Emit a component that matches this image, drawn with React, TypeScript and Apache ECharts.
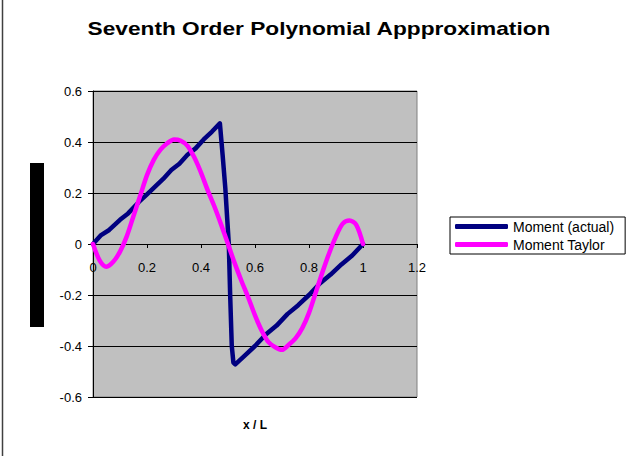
import React, { useEffect, useRef } from "react";
import * as echarts from "echarts";

const TITLE = "Seventh Order Polynomial Appproximation";
const X_NAME = "x / L";
const SERIES_NAMES = ["Moment (actual)", "Moment Taylor"];

const actualX = [0, 0.03, 0.06, 0.1, 0.13, 0.17, 0.2, 0.23, 0.26, 0.29, 0.32, 0.35, 0.38, 0.41, 0.44, 0.47, 0.48, 0.49, 0.497, 0.503, 0.508, 0.514, 0.52, 0.527, 0.56, 0.6, 0.64, 0.68, 0.72, 0.76, 0.8, 0.84, 0.88, 0.92, 0.96, 1.0];
const actualY = [0, 0.035, 0.055, 0.095, 0.12, 0.165, 0.195, 0.225, 0.255, 0.29, 0.315, 0.35, 0.375, 0.41, 0.44, 0.473, 0.35, 0.22, 0.1, 0, -0.2, -0.4, -0.465, -0.472, -0.44, -0.4, -0.355, -0.32, -0.275, -0.24, -0.2, -0.155, -0.12, -0.08, -0.045, 0.0];

const taylorX = [0, 0.025, 0.05, 0.075, 0.1, 0.125, 0.15, 0.175, 0.2, 0.225, 0.25, 0.275, 0.3, 0.325, 0.35, 0.375, 0.4, 0.425, 0.45, 0.475, 0.5, 0.525, 0.55, 0.575, 0.6, 0.625, 0.65, 0.675, 0.7, 0.725, 0.75, 0.775, 0.8, 0.825, 0.85, 0.875, 0.9, 0.925, 0.95, 0.975, 1.0];
const taylorY = [0, -0.065, -0.089, -0.07, -0.03, 0.03, 0.11, 0.19, 0.27, 0.33, 0.37, 0.395, 0.41, 0.405, 0.385, 0.34, 0.28, 0.21, 0.146, 0.075, 0, -0.076, -0.145, -0.21, -0.28, -0.34, -0.385, -0.405, -0.415, -0.395, -0.37, -0.33, -0.27, -0.19, -0.11, -0.035, 0.03, 0.08, 0.092, 0.075, 0.0];

const Y_MIN = -0.6, Y_MAX = 0.6, Y_STEP = 0.2;
const X_MIN = 0, X_MAX = 1.2, X_STEP = 0.2;

export default function App() {
  const ref = useRef<HTMLDivElement>(null);
  useEffect(() => {
    if (!ref.current) return;
    const chart = echarts.init(ref.current, null, { renderer: "svg" });
    const font = "Arial, 'Liberation Sans', sans-serif";
    chart.setOption({
      animation: false,
      backgroundColor: "#ffffff",
      textStyle: { fontFamily: font },
      grid: {
        left: 93, right: 216, top: 91, bottom: 59,
        show: true, backgroundColor: "#C0C0C0", borderColor: "#808080", borderWidth: 1,
      },
      legend: {
        orient: "vertical", left: 450, top: 217,
        borderColor: "#000", borderWidth: 1, padding: [2, 11, 2, 5],
        itemGap: 3, itemWidth: 53, itemHeight: 5, icon: "roundRect",
        textStyle: { fontSize: 14, fontFamily: font, color: "#000", lineHeight: 15 },
        data: SERIES_NAMES,
      },
      xAxis: {
        type: "value", min: X_MIN, max: X_MAX, interval: X_STEP,
        position: "bottom", offset: -153,
        axisLine: { onZero: false, lineStyle: { color: "#000", width: 1 } },
        axisTick: { show: true, length: 4, lineStyle: { color: "#000" } },
        axisLabel: { fontSize: 13, color: "#000", margin: 17, fontFamily: font },
        splitLine: { show: false },
      },
      yAxis: {
        type: "value", min: Y_MIN, max: Y_MAX, interval: Y_STEP,
        axisLine: { show: true, lineStyle: { color: "#000", width: 1 } },
        axisTick: { show: true, length: 5, lineStyle: { color: "#000" } },
        axisLabel: { fontSize: 13, color: "#000", margin: 11, fontFamily: font },
        splitLine: { show: true, lineStyle: { color: "#000", width: 1 } },
      },
      graphic: [
        { type: "line", shape: { x1: 2.5, y1: 0, x2: 2.5, y2: 456 }, style: { stroke: "#404040", lineWidth: 1.5 } },
        { type: "rect", shape: { x: 30, y: 163, width: 14, height: 164 }, style: { fill: "#000" } },
        { type: "text", x: 319, y: 28, scaleX: 1.26, style: { text: TITLE, font: `bold 18px ${font}`, fill: "#000", textAlign: "center", textVerticalAlign: "middle" } },
        { type: "text", x: 255, y: 425, style: { text: X_NAME, font: `bold 12px ${font}`, fill: "#000", textAlign: "center", textVerticalAlign: "middle" } },
      ],
      series: [
        {
          name: SERIES_NAMES[0], type: "line", showSymbol: false, symbol: "none",
          data: actualX.map((x, i) => [x, actualY[i]]),
          lineStyle: { color: "#000080", width: 4.5, cap: "round", join: "round" },
          itemStyle: { color: "#000080" },
        },
        {
          name: SERIES_NAMES[1], type: "line", showSymbol: false, symbol: "none", smooth: 0.3,
          data: taylorX.map((x, i) => [x, taylorY[i]]),
          lineStyle: { color: "#FF00FF", width: 4.5, cap: "round", join: "round" },
          itemStyle: { color: "#FF00FF" },
        },
      ],
    });
    return () => chart.dispose();
  }, []);
  return <div ref={ref} style={{ position: "fixed", left: 0, top: 0, width: 633, height: 456 }} />;
}
